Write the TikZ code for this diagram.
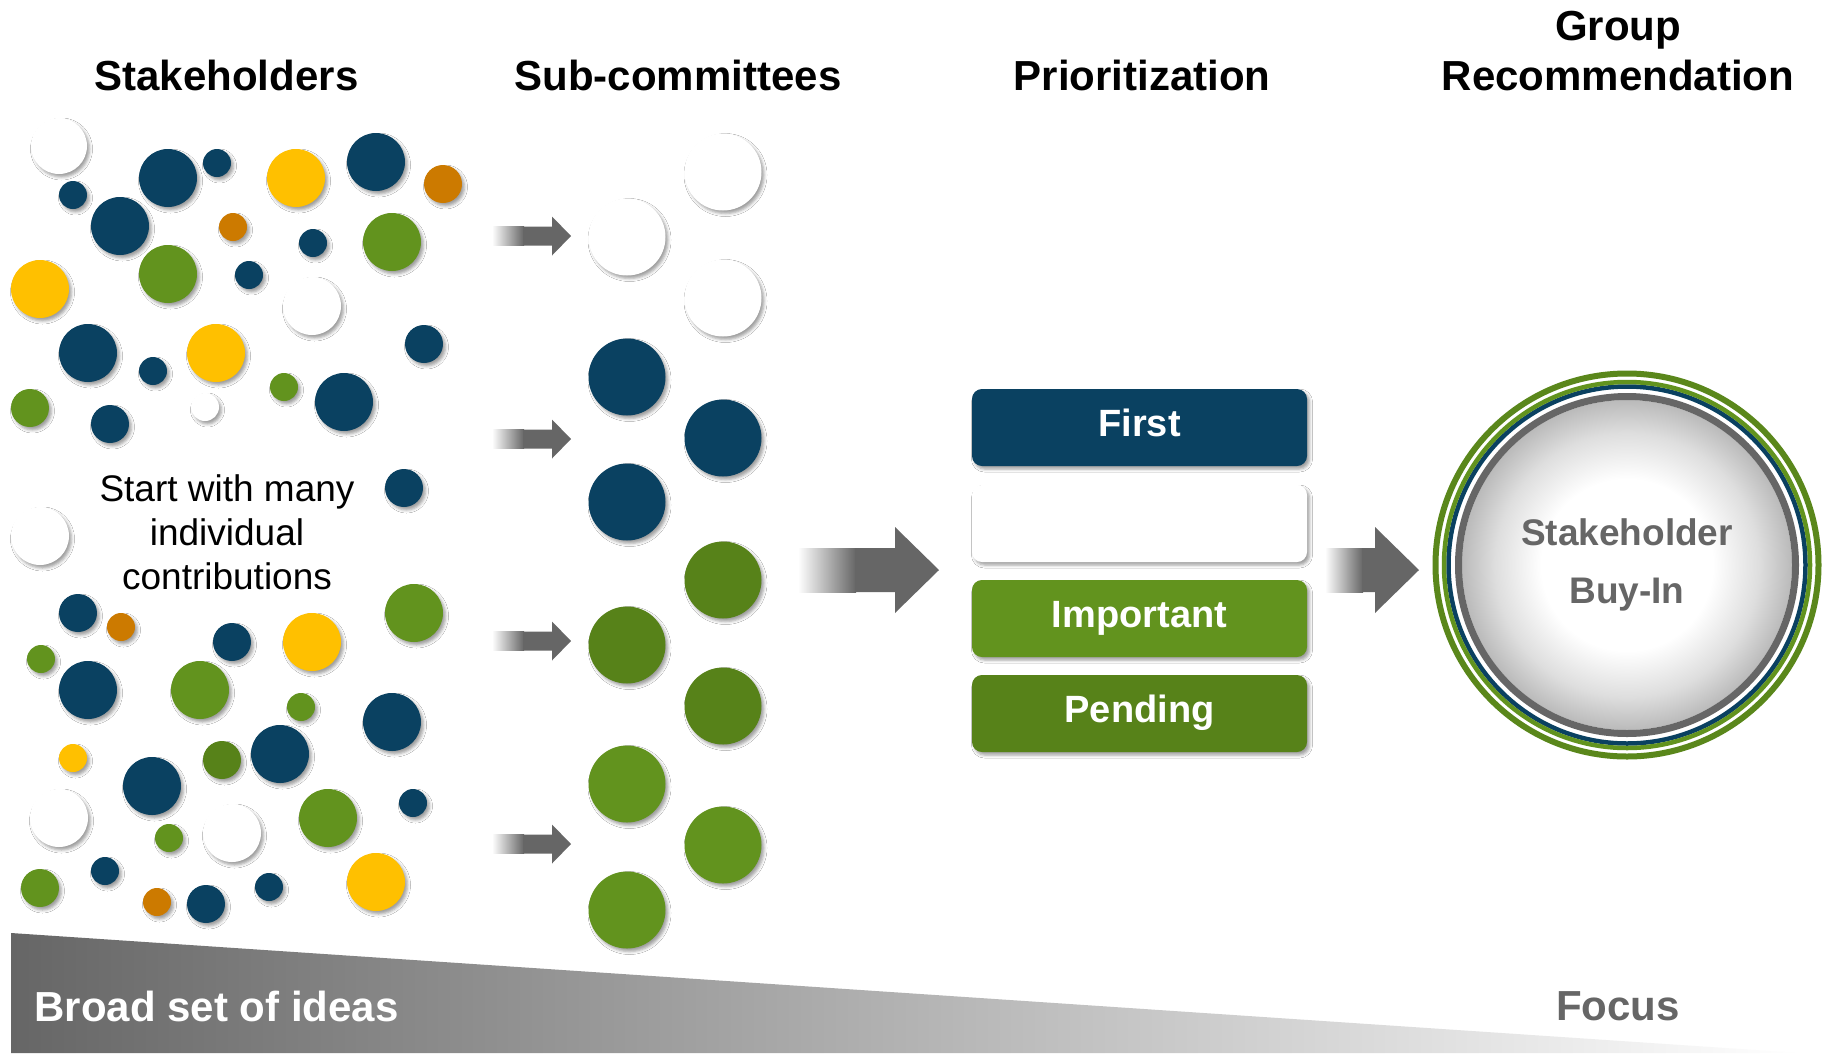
\documentclass[tikz,border=0pt]{standalone}
\usepackage{fontspec}
\setmainfont{Liberation Sans}
\usetikzlibrary{shadows.blur}
\definecolor{navy}{HTML}{0A4161}
\definecolor{leaf}{HTML}{62931E}
\definecolor{darkleaf}{HTML}{578219}
\definecolor{gold}{HTML}{FFC000}
\definecolor{amber}{HTML}{CC7A00}
\definecolor{arrowgray}{HTML}{666666}
\pgfdeclareradialshading{ringfill}{\pgfpoint{0bp}{0bp}}{color(0bp)=(white); color(13bp)=(white); color(20bp)=(black!13); color(25bp)=(black!27); color(50bp)=(black!27)}
\tikzset{
  shd/.style={blur shadow={shadow xshift=2.5pt, shadow yshift=-3pt, shadow blur radius=3pt, shadow opacity=38}},
  dot/.style={circle, inner sep=0pt, outer sep=0pt, shd},
  heading/.style={anchor=base, font=\fontsize{42}{50}\selectfont\bfseries},
  boxstyle/.style={rounded corners=10pt, minimum width=335pt, minimum height=77pt, inner sep=0pt, shd},
  boxtext/.style={anchor=mid, text=white, font=\fontsize{38}{44}\selectfont\bfseries},
  plain/.style={anchor=base, font=\fontsize{37}{44}\selectfont},
}
\begin{document}
\begin{tikzpicture}[x=1pt,y=-1pt]
\useasboundingbox (0,0) rectangle (1829,1053);
\fill[white] (0,0) rectangle (1829,1053);

% headings
\node[heading] (h1) at (226.5,90) {Stakeholders};
\node[heading] (h2) at (678,90) {Sub-committees};
\node[heading] (h3) at (1142,90) {Prioritization};
\node[heading] (h4a) at (1618,40) {Group};
\node[heading] (h4b) at (1618,90) {Recommendation};

% bottom wedge
\shade[left color=arrowgray, right color=white] (11,933) -- (1800,1053) -- (11,1053) -- cycle;
\node[anchor=base west, text=white, font=\fontsize{42}{50}\selectfont\bfseries] (broad) at (31,1021) {Broad set of ideas};
\node[anchor=base, text=arrowgray, font=\fontsize{42}{50}\selectfont\bfseries] (focus) at (1618,1020) {Focus};

% stakeholder dots
\foreach \n/\c/\x/\y/\d in {
 a1/white/59/146/56, a2/navy/73/195/28, a3/navy/168/178/58, a4/navy/217/163/28,
 a5/gold/296/178/58, a6/navy/376/162/58, a7/amber/443/184/38, a8/navy/120/226/58,
 a9/amber/233/227/28, a10/navy/313/243/28, a11/leaf/392/242/58, a12/gold/40/289/58,
 a13/leaf/168/274/58, a14/navy/249/275/28, a15/white/312/306/58, a16/navy/88/353/58,
 a17/navy/153/371/28, a18/gold/216/353/58, a19/navy/424/344/38, a20/leaf/284/387/28,
 a21/navy/344/402/58, a22/leaf/30/408/38, a23/navy/110/424/38, a24/white/205/407/28,
 a25/navy/404/488/38, a26/white/40/536/58, a27/navy/78/613/38, a28/amber/121/627/28,
 a29/leaf/41/659/28, a30/navy/232/642/38, a31/gold/312/642/58, a32/leaf/414/613/58,
 a33/navy/88/690/58, a34/leaf/200/690/58, a35/leaf/301/707/28, a36/navy/392/722/58,
 a37/gold/73/758/28, a38/darkleaf/222/760/38, a39/navy/280/754/58, a40/navy/152/786/58,
 a41/white/59/818/58, a42/leaf/169/838/28, a43/white/232/833/58, a44/leaf/328/818/58,
 a45/navy/413/803/28, a46/leaf/40/888/38, a47/navy/105/871/28, a48/amber/157/902/28,
 a49/navy/206/904/38, a50/navy/269/887/28, a51/gold/376/882/58}
 \node[dot, fill=\c, minimum size=\d] (\n) at (\x,\y) {};

\node[plain] (t1) at (227,501) {Start with many};
\node[plain] (t2) at (227,545) {individual};
\node[plain] (t3) at (227,589) {contributions};

% small arrows
\foreach \k/\y in {1/236, 2/439, 3/641, 4/844} {
  \shade[left color=white, right color=arrowgray] (492,\y-9.5) rectangle (524,\y+9.5);
  \fill[arrowgray] (523,\y-9.5) -- (552,\y-9.5) -- (552,\y-19.5) -- (571,\y) -- (552,\y+19.5) -- (552,\y+9.5) -- (523,\y+9.5) -- cycle;
}

% sub-committee circles
\foreach \n/\c/\x/\y in {
 b1/white/627/237, b2/navy/627/377, b3/navy/627/502, b4/darkleaf/627/645, b5/leaf/627/784, b6/leaf/627/910,
 c1/white/723/172, c2/white/723/298, c3/navy/723/438, c4/darkleaf/723/580, c5/darkleaf/723/706, c6/leaf/723/845}
 \node[dot, fill=\c, minimum size=77] (\n) at (\x,\y) {};

% big arrow 1
\shade[left color=white, right color=arrowgray] (798,548) rectangle (856,592);
\fill[arrowgray] (855,548) -- (895,548) -- (895,527) -- (939,570) -- (895,613) -- (895,592) -- (855,592) -- cycle;

% priority boxes
\node[boxstyle, fill=navy] (first) at (1139.5,427.5) {};
\node[boxstyle, fill=white] (blank) at (1139.5,523.5) {};
\node[boxstyle, fill=leaf] (important) at (1139.5,618.5) {};
\node[boxstyle, fill=darkleaf] (pending) at (1139.5,713.5) {};
\node[boxtext] (firstt) at (1139.5,434) {First};
\node[boxtext] (impt) at (1139.5,625) {Important};
\node[boxtext] (pendt) at (1139.5,720) {Pending};

% big arrow 2
\shade[left color=white, right color=arrowgray] (1325,548) rectangle (1363,592);
\fill[arrowgray] (1362,548) -- (1375,548) -- (1375,527) -- (1419,570) -- (1375,613) -- (1375,592) -- (1362,592) -- cycle;

% buy-in circle
\node[circle, inner sep=0pt, minimum size=330] (buyin) at (1627,565) {};
\shade[shading=ringfill] (buyin.center) circle (165);
\draw[arrowgray, line width=7pt] (buyin.center) circle (168.5);
\draw[navy, line width=4.5pt] (buyin.center) circle (178.5);
\draw[leaf, line width=4.5pt] (buyin.center) circle (183);
\draw[darkleaf!70!leaf, line width=6pt] (buyin.center) circle (191.5);
\node[anchor=base, text=arrowgray, font=\fontsize{37}{44}\selectfont\bfseries] (bt1) at (1627,545) {Stakeholder};
\node[anchor=base, text=arrowgray, font=\fontsize{37}{44}\selectfont\bfseries] (bt2) at (1627,603) {Buy-In};
\end{tikzpicture}
\end{document}
